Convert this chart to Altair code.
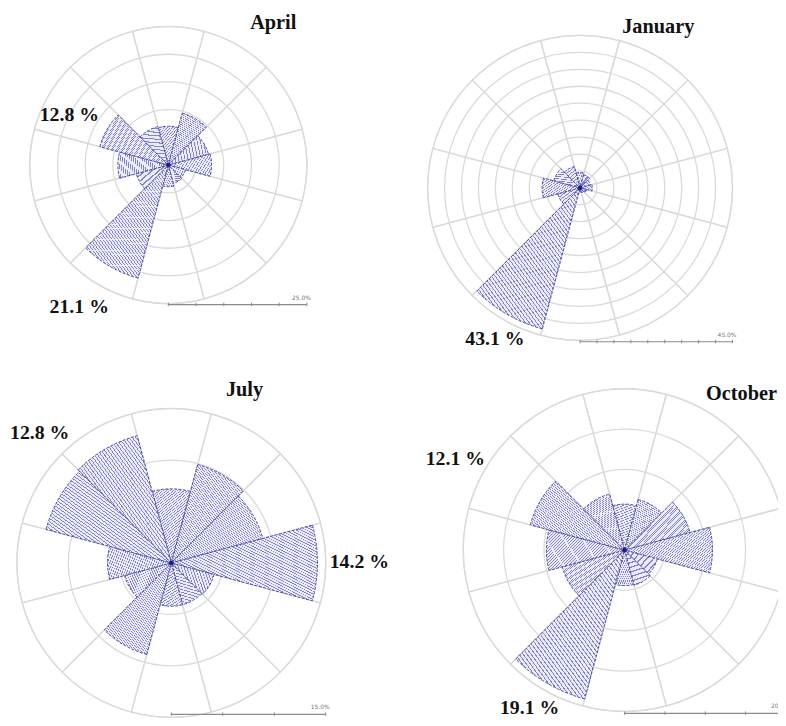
import math
import altair as alt
import pandas as pd

# ---------------- data ----------------
DIRECTIONS = [0, 30, 60, 90, 120, 150, 180, 210, 240, 270, 300, 330]
SECTOR_WIDTH = 30

APRIL = [7.0, 9.7, 7.5, 7.8, 3.2, 3.4, 3.9, 21.1, 6.0, 9.1, 12.8, 7.2]
JANUARY = [4.5, 4.0, 3.2, 3.6, 2.0, 1.5, 1.2, 43.1, 6.8, 11.2, 8.0, 6.5]
JULY = [7.2, 9.9, 9.2, 14.2, 4.3, 4.2, 4.2, 9.2, 4.7, 6.2, 12.6, 12.8]
OCTOBER = [5.7, 6.5, 8.4, 10.9, 4.2, 4.5, 4.4, 19.1, 8.0, 9.7, 12.1, 7.2]

MONTHS = ["April", "January", "July", "October"]
SERIES = [APRIL, JANUARY, JULY, OCTOBER]
SCALE_MAX = [25, 45, 15, 20]
RING_STEP = 5
PEAK_LABELS = [["12.8 %", "21.1 %"], ["43.1 %"], ["12.8 %", "14.2 %"], ["12.1 %", "19.1 %"]]

# ---------------- layout / style (pixel positions in the single canvas) ----------------
W, H = 778, 718
LAYOUT = [
    dict(cx=162, cy=155, R=140, title=(268, 17.5, "center"),
         labels=[(62, 110), (72, 304)], bar_y=296),
    dict(cx=578, cy=178, R=154, title=(657, 22, "center"),
         labels=[(492, 337)], bar_y=333.5),
    dict(cx=165, cy=557, R=156, title=(239, 388, "center"),
         labels=[(32, 432), (355, 562)], bar_y=710),
    dict(cx=623, cy=544, R=163, title=(777, 392, "right"),
         labels=[(452, 458), (527, 710)], bar_y=709),
]

GRID = "#dadada"
EDGE = "#4a4aa6"
SERIF = "Liberation Serif"

N_STRIPES = 55
stops = []
for k in range(N_STRIPES):
    a = k / N_STRIPES
    b = (k + 0.3) / N_STRIPES
    c = (k + 1) / N_STRIPES
    stops += [
        {"offset": a, "color": "#8484cc"},
        {"offset": b, "color": "#8484cc"},
        {"offset": b, "color": "#ececf6"},
        {"offset": c, "color": "#ececf6"},
    ]
HATCH = {"gradient": "linear", "x1": 0, "y1": 1, "x2": 1, "y2": 0, "stops": stops}


def rose(month, values, vmax, L):
    half = SECTOR_WIDTH / 2
    theta_scale = alt.Scale(domain=[0, 360], range=[0, 2 * math.pi])
    r_scale = alt.Scale(type="linear", domain=[0, vmax], range=[0, L["R"]], zero=True, nice=False)
    pos = dict(x=alt.value(L["cx"]), y=alt.value(L["cy"]))

    bars_df = pd.DataFrame({"dir": DIRECTIONS, "pct": values})
    bars_df["start"] = bars_df["dir"] - half
    bars_df["end"] = bars_df["dir"] + half

    grid_df = pd.DataFrame({"dir": DIRECTIONS})
    grid_df["start"] = grid_df["dir"] - half
    grid_df["end"] = grid_df["dir"] + half
    grid_df["pct"] = vmax

    rings_df = pd.DataFrame({"pct": list(range(RING_STEP, vmax + 1, RING_STEP))})
    rings_df["start"] = 0
    rings_df["end"] = 360

    def enc():
        return dict(
            theta=alt.Theta("start:Q", scale=theta_scale, stack=None),
            theta2="end:Q",
            radius=alt.Radius("pct:Q", scale=r_scale),
            **pos,
        )

    spokes = alt.Chart(grid_df).mark_arc(fillOpacity=0, stroke=GRID, strokeWidth=1.3).encode(**enc())
    rings = alt.Chart(rings_df).mark_arc(fillOpacity=0, stroke=GRID, strokeWidth=1.3).encode(**enc())
    bars = alt.Chart(bars_df).mark_arc(
        fill=HATCH, stroke=EDGE, strokeWidth=1, strokeDash=[3, 1.5]
    ).encode(**enc())

    dot = alt.Chart(pd.DataFrame({"m": [month]})).mark_circle(
        size=22, color="#1c1c8c", opacity=1
    ).encode(**pos)

    # scale bar: same pixels per percent as the radius
    x_scale = alt.Scale(domain=[0, vmax], range=[L["cx"], L["cx"] + L["R"]], nice=False, zero=False)
    line_df = pd.DataFrame({"a": [0], "b": [vmax], "lab": [f"{vmax:.1f}%"]})
    ticks_df = pd.DataFrame({"v": list(range(0, vmax + 1, RING_STEP))})
    yb = L["bar_y"]
    bar_line = alt.Chart(line_df).mark_rule(color="#8a8a8a", strokeWidth=1.2).encode(
        x=alt.X("a:Q", scale=x_scale, axis=None), x2="b:Q", y=alt.value(yb)
    )
    bar_ticks = alt.Chart(ticks_df).mark_rule(color="#8a8a8a", strokeWidth=1).encode(
        x=alt.X("v:Q", scale=x_scale, axis=None), y=alt.value(yb - 2), y2=alt.value(yb + 1.5)
    )
    bar_label = alt.Chart(line_df).mark_text(
        fontSize=6, color="#777777", align="right", baseline="alphabetic", dy=-5, dx=4,
        font="DejaVu Sans",
    ).encode(x=alt.X("b:Q", scale=x_scale, axis=None), y=alt.value(yb), text="lab:N")

    return alt.layer(spokes, rings, bars, dot, bar_line, bar_ticks, bar_label)


def texts(month, peaks, L):
    tx, ty, talign = L["title"]
    layers = [
        alt.Chart(pd.DataFrame({"t": [month]})).mark_text(
            font=SERIF, fontSize=20.5, fontWeight="bold", color="#111111",
            align=talign, baseline="alphabetic",
        ).encode(text="t:N", x=alt.value(tx), y=alt.value(ty))
    ]
    for txt, (lx, ly) in zip(peaks, L["labels"]):
        layers.append(
            alt.Chart(pd.DataFrame({"t": [txt]})).mark_text(
                font=SERIF, fontSize=20, fontWeight="bold", color="#111111",
                align="center", baseline="alphabetic",
            ).encode(text="t:N", x=alt.value(lx), y=alt.value(ly))
        )
    return layers


roses = [rose(MONTHS[i], SERIES[i], SCALE_MAX[i], LAYOUT[i]) for i in range(4)]
text_layers = []
for i in range(4):
    text_layers += texts(MONTHS[i], PEAK_LABELS[i], LAYOUT[i])

chart = alt.layer(*roses, *text_layers).resolve_scale(
    radius="independent", theta="independent", x="independent"
).properties(
    width=W, height=H, padding=0, autosize=alt.AutoSizeParams(type="none")
).configure_view(stroke=None)

chart.save("out.html", embed_options={"renderer": "svg", "actions": False})
